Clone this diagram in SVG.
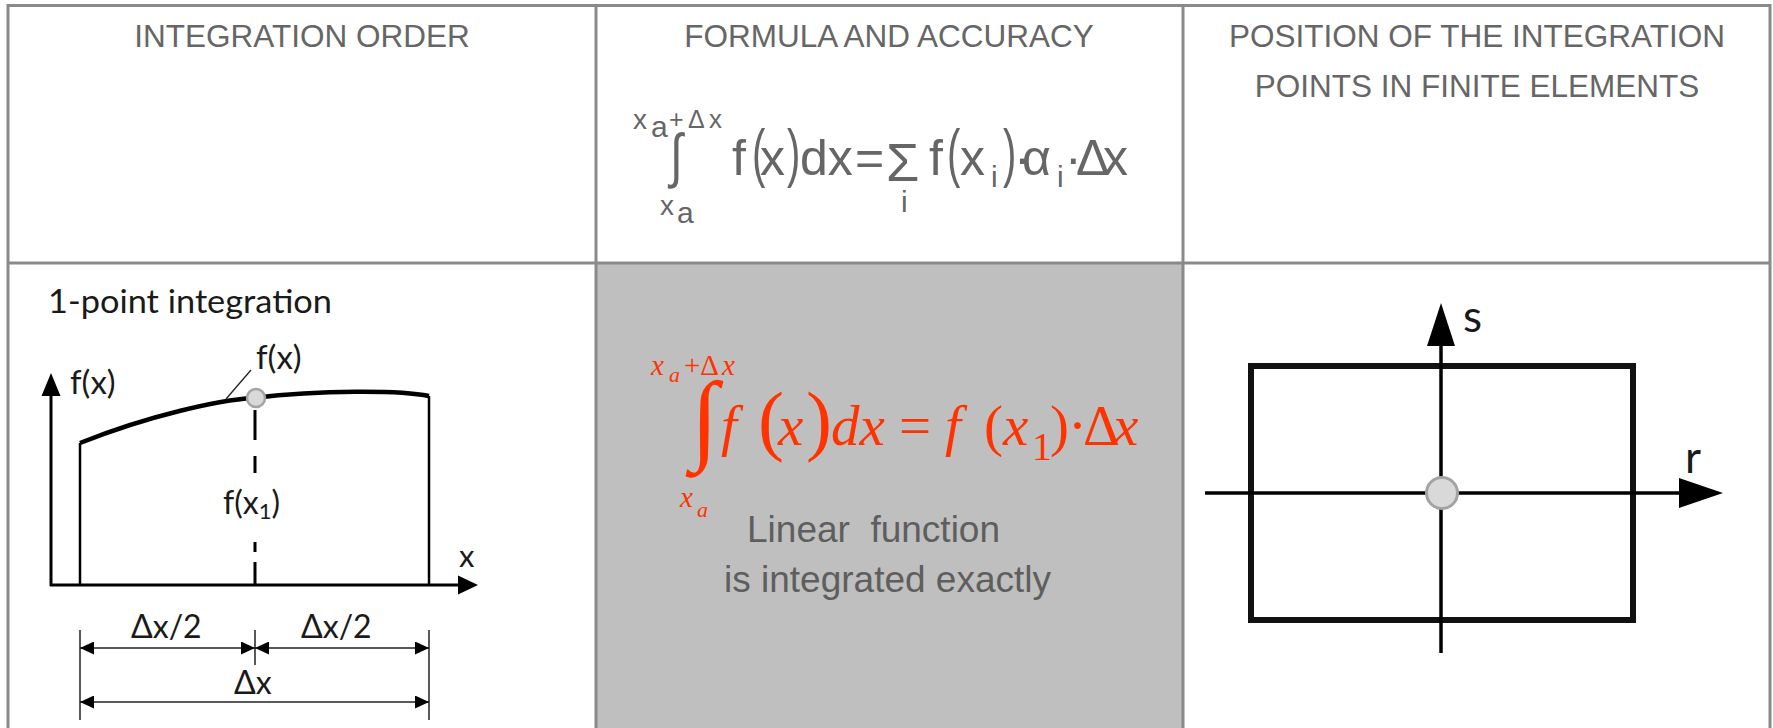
<svg xmlns="http://www.w3.org/2000/svg" width="1773" height="728" viewBox="0 0 1773 728">
<style>
.grid{stroke:#8a8a8a;stroke-width:3;fill:none}
.hdr{font-family:"Liberation Sans",Arial,sans-serif;font-size:31.5px;fill:#666;text-anchor:middle}
.f1{font-family:"Liberation Sans",Arial,sans-serif;fill:#666}
.red{font-family:"Liberation Serif","Times New Roman",serif;fill:#ff3300}
.it{font-style:italic}
.lbl{font-family:Lato,"Open Sans",sans-serif;fill:#1a1a1a}
.note{font-family:"Liberation Sans",Arial,sans-serif;font-size:37px;fill:#5e5e5e}
.axis{stroke:#000;stroke-width:3;fill:none}
.bar{stroke:#000;stroke-width:2.5;fill:none}
.dim{stroke:#222;stroke-width:1.5;fill:none}
.head{fill:#000}
.pt{fill:#d9d9d9;stroke:#a3a3a3}
</style>
<defs>
<marker id="dimArrow" viewBox="0 0 14 13" refX="14" refY="6.5" markerWidth="14" markerHeight="13" markerUnits="userSpaceOnUse" orient="auto-start-reverse">
<path d="M0,0 L14,6.5 L0,13 z" fill="#000"/>
</marker>
</defs>
<rect x="0" y="0" width="1773" height="728" fill="#fff"/>
<g id="cell-formula-bg">
<rect x="596" y="263" width="587" height="470" fill="#bfbfbf"/>
</g>
<g id="table-grid" class="grid">
<line x1="8" y1="5.5" x2="1770" y2="5.5"/>
<line x1="8" y1="263" x2="1770" y2="263"/>
<line x1="8" y1="4" x2="8" y2="728"/>
<line x1="596" y1="4" x2="596" y2="728"/>
<line x1="1183" y1="4" x2="1183" y2="728"/>
<line x1="1770" y1="4" x2="1770" y2="728"/>
</g>
<g id="header-order">
<text class="hdr" x="302" y="47">INTEGRATION ORDER</text>
</g>
<g id="header-formula">
<text class="hdr" x="889" y="47">FORMULA AND ACCURACY</text>
<text class="f1">
<tspan x="633" y="129" font-size="28">x</tspan><tspan x="651" y="137" font-size="30">a</tspan><tspan x="669" y="128" font-size="25">+</tspan><tspan x="688" y="128" font-size="25">Δ</tspan><tspan x="709" y="128" font-size="26">x</tspan>
</text>
<text class="f1" transform="translate(670,176) scale(1,1.3)" font-size="46">∫</text>
<text class="f1">
<tspan x="660" y="215" font-size="28">x</tspan><tspan x="677" y="223" font-size="30">a</tspan>
</text>
<text class="f1" font-size="50">
<tspan x="732" y="175">f</tspan><tspan x="760" y="175">x</tspan><tspan x="800" y="175">dx</tspan><tspan x="855" y="175">=</tspan><tspan x="901" y="212" font-size="30">i</tspan><tspan x="929" y="175">f</tspan><tspan x="960" y="175">x</tspan><tspan x="991" y="187" font-size="30">i</tspan><tspan x="1014" y="175">·</tspan><tspan x="1022" y="175">α</tspan><tspan x="1057" y="187" font-size="30">i</tspan><tspan x="1065" y="175">·</tspan><tspan x="1076" y="175">Δ</tspan><tspan x="1103" y="175">x</tspan>
</text>
<text class="f1" x="886" y="181" style="font-size:54px">Σ</text>
<text class="f1" font-size="50" transform="translate(752,175) scale(0.8,1.28)">(</text>
<text class="f1" font-size="50" transform="translate(787,175) scale(0.8,1.28)">)</text>
<text class="f1" font-size="50" transform="translate(947,175) scale(0.8,1.28)">(</text>
<text class="f1" font-size="50" transform="translate(1003,175) scale(0.8,1.28)">)</text>
</g>
<g id="header-position">
<text class="hdr" x="1477" y="47">POSITION OF THE INTEGRATION</text>
<text class="hdr" x="1477" y="97">POINTS IN FINITE ELEMENTS</text>
</g>
<g id="cell-order">
<text class="lbl" x="48" y="313" font-size="33" textLength="284" lengthAdjust="spacingAndGlyphs">1-point integration</text>
<line class="axis" x1="51" y1="586" x2="51" y2="392"/>
<polygon class="head" points="51,373 41.5,396 60.5,396"/>
<line class="axis" x1="50" y1="585" x2="460" y2="585"/>
<polygon class="head" points="478,585 458,575.5 458,594.5"/>
<text class="lbl" x="70" y="394" font-size="33">f(x)</text>
<text class="lbl" x="459" y="567" font-size="31">x</text>
<line class="bar" x1="80" y1="585" x2="80" y2="443"/>
<line class="bar" x1="429" y1="585" x2="429" y2="396"/>
<path d="M80,443 C150,415 220,400 253,398 C320,390 400,390 429,396" stroke="#000" stroke-width="4.5" fill="none"/>
<line x1="251" y1="370" x2="226" y2="399" stroke="#222" stroke-width="1.3"/>
<text class="lbl" x="256" y="369" font-size="33">f(x)</text>
<g stroke="#000" stroke-width="3">
<line x1="255" y1="410" x2="255" y2="440"/>
<line x1="255" y1="456" x2="255" y2="473"/>
<line x1="255" y1="542" x2="255" y2="552"/>
<line x1="255" y1="562" x2="255" y2="585"/>
</g>
<circle class="pt" cx="256" cy="398" r="9" stroke-width="2.5"/>
<text class="lbl" x="223" y="514" font-size="32">f(x<tspan font-size="22" dy="5">1</tspan><tspan dy="-5">)</tspan></text>
<g class="dim">
<line x1="80" y1="630" x2="80" y2="720"/>
<line x1="255" y1="630" x2="255" y2="665"/>
<line x1="429" y1="630" x2="429" y2="720"/>
</g>
<g id="connectors" class="dim">
<line x1="80" y1="648" x2="255" y2="648" marker-start="url(#dimArrow)" marker-end="url(#dimArrow)"/>
<line x1="255" y1="648" x2="429" y2="648" marker-start="url(#dimArrow)" marker-end="url(#dimArrow)"/>
<line x1="80" y1="702" x2="429" y2="702" marker-start="url(#dimArrow)" marker-end="url(#dimArrow)"/>
</g>
<text class="lbl" x="131" y="638" font-size="32">Δx/2</text>
<text class="lbl" x="301" y="638" font-size="32">Δx/2</text>
<text class="lbl" x="234" y="694" font-size="32">Δx</text>
</g>
<g id="cell-formula">
<text class="red">
<tspan class="it" x="651" y="375" font-size="29">x</tspan><tspan class="it" x="669" y="382" font-size="22">a</tspan><tspan x="684" y="375" font-size="29">+Δ</tspan><tspan class="it" x="722" y="375" font-size="29">x</tspan>
</text>
<text class="red" x="691" y="451" font-size="100" font-weight="bold">∫</text>
<text class="red" font-size="57">
<tspan class="it" x="721" y="445">f</tspan><tspan x="758" y="446" font-size="78">(</tspan><tspan class="it" x="778" y="445">x</tspan><tspan x="806" y="446" font-size="78">)</tspan><tspan class="it" x="831" y="445">dx</tspan><tspan x="899" y="445">=</tspan><tspan class="it" x="945" y="445">f</tspan><tspan x="984" y="445">(</tspan><tspan class="it" x="1003" y="445">x</tspan><tspan x="1032" y="460" font-size="40">1</tspan><tspan x="1050" y="445">)</tspan><tspan x="1068" y="445">·</tspan><tspan x="1083" y="445">Δ</tspan><tspan class="it" x="1113" y="445">x</tspan>
</text>
<text class="red">
<tspan class="it" x="680" y="507" font-size="29">x</tspan><tspan class="it" x="697" y="517" font-size="22">a</tspan>
</text>
<text class="note" x="747" y="542" xml:space="preserve">Linear  function</text>
<text class="note" x="724" y="592">is integrated exactly</text>
</g>
<g id="cell-position">
<rect x="1251" y="366" width="382" height="254" fill="none" stroke="#111" stroke-width="6"/>
<line x1="1441" y1="653" x2="1441" y2="340" stroke="#000" stroke-width="3.5"/>
<polygon class="head" points="1441,303 1427,346 1455,346"/>
<line x1="1205" y1="493" x2="1685" y2="493" stroke="#000" stroke-width="3.5"/>
<polygon class="head" points="1723,493 1679,478 1679,508"/>
<circle class="pt" cx="1442" cy="493" r="15.5" stroke-width="3"/>
<text class="lbl" x="1463" y="332" font-size="44">s</text>
<text class="lbl" x="1685" y="473" font-size="44">r</text>
</g>
</svg>
